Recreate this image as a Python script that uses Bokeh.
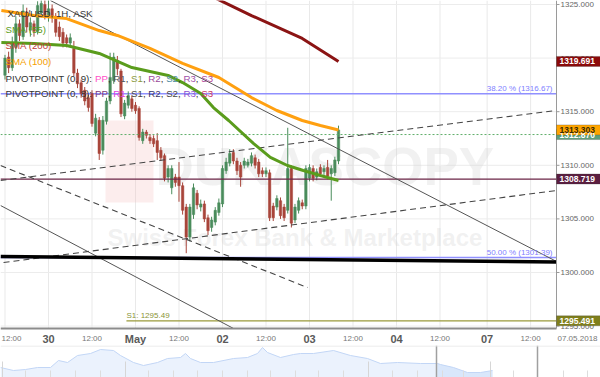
from bokeh.plotting import figure
from bokeh.models import ColumnDataSource, Range1d
from bokeh.layouts import column
from bokeh.core.properties import value
from bokeh.embed import file_html
from bokeh.resources import INLINE

# ---------------- data ----------------
hours = list(range(-12, 81))   # hourly candles, hour 0 = 30 Apr 00:00
opens = [1318.4, 1320.1, 1319.1, 1321.0, 1323.2, 1322.0, 1324.3, 1322.6, 1323.2, 1322.5, 1324.2, 1325.0,
         1323.9, 1324.6, 1323.9, 1322.9, 1322.4, 1321.9, 1321.4, 1320.9, 1318.6, 1317.7, 1317.0, 1316.3,
         1316.7, 1313.0, 1314.2, 1311.4, 1314.1, 1316.0, 1317.9, 1319.8, 1318.8, 1314.6, 1315.6, 1316.2,
         1315.6, 1315.3, 1312.3, 1313.1, 1312.6, 1312.5, 1312.3, 1311.4, 1310.9, 1308.9, 1307.9, 1308.9,
         1308.9, 1308.1, 1306.1, 1303.3, 1305.4, 1307.4, 1306.1, 1306.4, 1305.1, 1304.2, 1304.7, 1305.6,
         1306.4, 1309.5, 1310.2, 1311.2, 1310.4, 1310.0, 1310.0, 1310.0, 1310.2, 1310.7, 1310.3, 1309.5,
         1309.2, 1309.3, 1306.2, 1306.1, 1306.7, 1306.1, 1305.8, 1309.7, 1304.9, 1305.8, 1306.5, 1306.2,
         1308.8, 1309.7, 1308.9, 1309.8, 1309.4, 1309.8, 1309.2, 1309.3, 1310.4]
highs = [1320.3, 1320.6, 1322.0, 1323.9, 1323.6, 1325.0, 1324.7, 1323.8, 1323.5, 1325.3, 1325.4, 1325.4,
         1325.4, 1325.0, 1324.2, 1323.4, 1322.8, 1322.2, 1322.3, 1321.6, 1319.0, 1318.0, 1317.3, 1316.6,
         1317.0, 1314.8, 1314.5, 1314.6, 1316.3, 1320.5, 1320.5, 1320.2, 1319.0, 1316.1, 1316.9, 1316.5,
         1315.9, 1315.5, 1313.4, 1313.3, 1312.9, 1312.8, 1313.0, 1311.7, 1311.1, 1310.0, 1310.0, 1309.2,
         1310.3, 1308.4, 1306.4, 1306.4, 1308.3, 1307.7, 1306.8, 1306.7, 1305.4, 1305.2, 1306.1, 1306.9,
         1310.0, 1310.7, 1311.5, 1311.5, 1310.7, 1310.3, 1310.7, 1310.6, 1311.2, 1311.0, 1310.6, 1309.8,
         1309.8, 1309.6, 1306.5, 1307.2, 1307.0, 1306.4, 1313.5, 1310.0, 1306.4, 1307.0, 1306.8, 1310.0,
         1310.1, 1310.0, 1309.7, 1310.1, 1310.0, 1310.5, 1310.0, 1310.8, 1313.7]
lows = [1318.0, 1318.6, 1318.8, 1320.5, 1321.6, 1321.7, 1322.4, 1322.0, 1322.0, 1322.2, 1323.8, 1323.6,
        1323.4, 1323.3, 1322.0, 1321.6, 1321.0, 1321.0, 1321.1, 1318.3, 1317.2, 1316.3, 1315.6, 1315.0,
        1313.6, 1312.7, 1310.5, 1311.0, 1313.8, 1315.7, 1317.6, 1318.4, 1314.5, 1314.3, 1315.3, 1315.0,
        1314.8, 1312.3, 1312.0, 1312.5, 1312.0, 1311.7, 1310.5, 1310.4, 1308.5, 1308.4, 1307.3, 1308.0,
        1306.6, 1305.4, 1301.8, 1302.9, 1305.0, 1305.9, 1305.7, 1304.7, 1303.5, 1303.8, 1304.4, 1305.3,
        1306.1, 1309.2, 1309.9, 1310.1, 1309.1, 1308.0, 1309.7, 1309.8, 1309.9, 1309.7, 1308.9, 1308.9,
        1308.9, 1304.8, 1304.8, 1305.8, 1305.0, 1304.8, 1305.5, 1304.2, 1304.6, 1305.5, 1305.9, 1305.9,
        1308.5, 1308.5, 1308.6, 1308.9, 1309.1, 1308.7, 1306.7, 1309.0, 1310.1]
closes = [1320.0, 1319.1, 1321.5, 1323.2, 1322.1, 1324.4, 1322.9, 1323.3, 1322.5, 1324.9, 1325.1, 1324.0,
          1324.6, 1323.8, 1322.4, 1322.0, 1321.4, 1321.4, 1321.9, 1318.6, 1317.6, 1316.7, 1316.0, 1315.4,
          1313.9, 1314.4, 1311.1, 1314.2, 1316.0, 1318.2, 1320.1, 1319.0, 1314.8, 1315.8, 1316.5, 1315.3,
          1315.1, 1312.6, 1313.1, 1312.8, 1312.3, 1312.0, 1311.2, 1310.7, 1308.8, 1309.7, 1309.7, 1308.4,
          1308.1, 1305.8, 1303.3, 1306.1, 1307.9, 1306.3, 1306.4, 1305.0, 1303.9, 1304.9, 1305.8, 1306.5,
          1309.7, 1310.3, 1311.1, 1310.4, 1309.5, 1308.9, 1310.4, 1310.3, 1310.9, 1310.0, 1309.2, 1309.2,
          1309.5, 1305.1, 1305.1, 1306.9, 1305.3, 1305.1, 1309.7, 1304.6, 1306.1, 1306.7, 1306.2, 1309.7,
          1309.8, 1308.8, 1309.4, 1309.2, 1309.7, 1309.0, 1309.7, 1310.5, 1313.3]

sma55_h = [-13, -4, 5, 14, 23, 33, 37, 42, 45.5, 49.7, 56.6, 61.2, 65.9, 70.3, 75, 80]
sma55_v = [1321.45, 1321.36, 1321.17, 1320.43, 1319.12, 1318.38, 1317.72, 1316.70, 1315.39, 1314.18,
           1312.03, 1310.73, 1309.98, 1309.51, 1309.05, 1308.58]
sma100_h = [-13, -4, 5, 14, 19, 28, 37, 47, 56, 63, 70, 75, 80]
sma100_v = [1324.44, 1323.97, 1323.69, 1322.57, 1322.11, 1320.90, 1319.50, 1318.19, 1316.32, 1315.11,
            1314.18, 1313.71, 1313.30]
sma200_h = [46, 56, 70, 80]
sma200_v = [1325.6, 1323.97, 1321.83, 1319.69]

# trend lines (start hour, start price, end hour, end price)
solid_x0 = [0.55, -13.24]
solid_y0 = [1325.37, 1306.25]
solid_x1 = [140.14, 51.03]
solid_y1 = [1301.03, 1294.78]
dash_x0 = [-13.24, -13.24, -12.4]
dash_y0 = [1309.98, 1308.58, 1300.93]
dash_x1 = [71.45, 140.14, 140.14]
dash_y1 = [1298.60, 1315.11, 1307.65]
thick_x = [-13.24, 140.14]
thick_y = [1301.50, 1300.98]

fib_levels = [1316.67, 1301.39]
fib_texts = ["38.20 % (1316.67)", "50.00 % (1301.39)"]
support_level = 1308.719
ask_level = 1312.870
s1_level = 1295.49
s1_start = 21.5

tag_values = [1319.691, 1312.870, 1313.303, 1308.719, 1295.491]
tag_fill = ["#8b0a0a", "#5f9f78", "#ffa500", "#5b1e40", "#7f7f1c"]
tag_text = ["#ffffff", "#ffffff", "#3a2a00", "#ffffff", "#ffffff"]

day_ticks = [0, 24, 48, 72, 96, 121]
day_labels = ["30", "May", "02", "03", "04", "07"]
half_ticks = [-12, 12, 36, 60, 84, 108, 133]
half_labels = ["12:00"] * 7
price_ticks = [1295, 1300, 1305, 1310, 1315, 1320, 1325]
date_label = "07.05.2018"

nav_x = [0, 13, 25, 37, 50, 58, 67, 77, 90, 100, 113, 120, 133, 143, 157, 167, 180, 185, 190, 200, 213,
         233, 247, 257, 262, 267, 280, 293, 300, 313, 333, 350, 367, 380, 397, 420, 437, 440, 453, 467,
         480, 492]
nav_v = [10, 7, 8, 10, 10, 17, 15, 22, 24, 28, 27, 22, 15, 12, 15, 19, 20, 24, 19, 15, 15, 19, 20, 24, 30,
         25, 20, 23, 24, 24, 27, 22, 19, 14, 15, 14, 14, 13, 10, 5, 5, 7]
nav_short = [25, 50, 75, 100, 148, 173, 197, 222, 247, 270, 295, 318, 343, 392, 417, 442, 463, 513, 563, 587]
nav_tall = [2, 125, 368, 490]
nav_window = [436, 537]

# ---------------- layout helpers ----------------
X0, X1 = -13.24, 140.14          # chart area spans pixels 0..556
Y0, Y1 = 1325.373, 1294.776      # chart area spans pixels 0..328
FW, FH = 556, 328
KX = (X1 - X0) / FW
KY = (Y0 - Y1) / FH
W, H = 600, 345


def px2x(px):
    return X0 + px * KX


def px2y(py):
    return Y0 - py * KY


FONT = "Liberation Sans"

p = figure(width=W, height=H, x_range=Range1d(X0, px2x(W)), y_range=Range1d(px2y(H), Y0),
           min_border=0, output_backend="svg", toolbar_location=None)
p.axis.visible = False
p.grid.visible = False
p.outline_line_color = None
p.background_fill_color = "white"
p.border_fill_color = "white"

# grid
vt = sorted(day_ticks + half_ticks)
p.segment(x0=vt, y0=[Y1] * len(vt), x1=vt, y1=[Y0] * len(vt), line_color="#e9e9e9", line_width=1)
p.segment(x0=[X0] * len(price_ticks), y0=price_ticks, x1=[X1] * len(price_ticks), y1=price_ticks,
          line_color="#ececec", line_width=1)

# watermark
p.quad(left=[px2x(105)], right=[px2x(153)], top=[px2y(120)], bottom=[px2y(202)],
       fill_color="#f4c4c4", fill_alpha=0.3, line_color=None)
p.text(x=[px2x(155)], y=[px2y(166)], text=["DUKASCOPY"], text_font=value(FONT),
       text_font_style="bold", text_font_size="53px", text_color="#cfcfcf", text_alpha=0.3,
       text_baseline="middle")
p.text(x=[px2x(107)], y=[px2y(237)], text=["Swiss Forex Bank & Marketplace"], text_font=value(FONT),
       text_font_style="bold", text_font_size="24px", text_color="#cfcfcf", text_alpha=0.3,
       text_baseline="middle")

# fib levels
p.segment(x0=[X0] * 2, y0=fib_levels, x1=[X1] * 2, y1=fib_levels, line_color="#9090ff", line_width=1.5)

# candles
inc = [c >= o for o, c in zip(opens, closes)]
colors = ["#4a8c5c" if u else "#a8453a" for u in inc]
src = ColumnDataSource(dict(h=hours, o=opens, hi=highs, lo=lows, c=closes, col=colors,
                            top=[max(o, c) for o, c in zip(opens, closes)],
                            bot=[min(o, c) for o, c in zip(opens, closes)]))
p.segment(x0="h", y0="hi", x1="h", y1="lo", color="col", line_width=1, source=src)
p.vbar(x="h", top="top", bottom="bot", width=0.68, fill_color="col", line_color="col",
       line_width=0.5, source=src)

# horizontal lines
p.segment(x0=[X0], y0=[support_level], x1=[X1], y1=[support_level], line_color="#6b2546", line_width=1.2)
p.segment(x0=[X0], y0=[ask_level], x1=[X1], y1=[ask_level], line_color="#5fae6a", line_width=1,
          line_dash="2 2")
p.segment(x0=[s1_start], y0=[s1_level], x1=[X1], y1=[s1_level], line_color="#9a9a3a", line_width=1.2)

# trend lines
p.segment(x0=solid_x0, y0=solid_y0, x1=solid_x1, y1=solid_y1, line_color="#555555", line_width=1)
p.segment(x0=dash_x0, y0=dash_y0, x1=dash_x1, y1=dash_y1, line_color="#444444", line_width=1.1,
          line_dash="6 4")
p.line(x=thick_x, y=thick_y, line_color="#000000", line_width=3.5)

# SMAs
p.line(x=sma200_h, y=sma200_v, line_color="#8b1414", line_width=3)
p.line(x=sma100_h, y=sma100_v, line_color="#ffa010", line_width=3)
p.line(x=sma55_h, y=sma55_v, line_color="#5a9c1c", line_width=3)

# level texts
p.text(x=[px2x(552)] * 2, y=fib_levels, text=fib_texts, text_align="right", text_baseline="bottom",
       y_offset=-1, text_font=value(FONT), text_font_size="8px", text_color="#8080ff")
p.text(x=[s1_start], y=[s1_level], text=["S1: 1295.49"], text_align="left", text_baseline="bottom",
       y_offset=-1, text_font=value(FONT), text_font_size="8px", text_color="#8a9436")

# frame borders (bottom and right axis line)
p.segment(x0=[X0], y0=[Y1], x1=[X1], y1=[Y1], line_color="#8c8c8c", line_width=2)
p.segment(x0=[X1], y0=[Y1], x1=[X1], y1=[Y0], line_color="#9a9a9a", line_width=1)

# right axis: ticks and labels
p.segment(x0=[X1] * len(price_ticks), y0=price_ticks, x1=[px2x(559)] * len(price_ticks), y1=price_ticks,
          line_color="#9a9a9a", line_width=1)
p.text(x=[px2x(560)] * len(price_ticks), y=price_ticks, text=[f"{v:.3f}" for v in price_ticks],
       text_align="left", text_baseline="middle", text_font=value(FONT), text_font_size="8px",
       text_color="#666666")

# bottom axis labels
p.text(x=day_ticks, y=[px2y(338)] * len(day_ticks), text=day_labels, text_align="center",
       text_baseline="middle", text_font=value(FONT), text_font_size="11px", text_font_style="bold",
       text_color="#5a5a5a")
edge_ticks = [t for t in half_ticks if t < px2x(11)]
inner_ticks = [t for t in half_ticks if t >= px2x(11)]
p.text(x=[X0] * len(edge_ticks), y=[px2y(338)] * len(edge_ticks),
       text=half_labels[:len(edge_ticks)], text_align="left", x_offset=1,
       text_baseline="middle", text_font=value(FONT), text_font_size="8px", text_color="#777777")
p.text(x=inner_ticks, y=[px2y(338)] * len(inner_ticks), text=half_labels[len(edge_ticks):],
       text_align="center", text_baseline="middle", text_font=value(FONT), text_font_size="8px",
       text_color="#777777")
p.text(x=[px2x(557)], y=[px2y(338)], text=[date_label], text_align="left", text_baseline="middle",
       text_font=value(FONT), text_font_size="8px", text_color="#777777")

# price tags on the right axis
half_h = 5 * KY
p.quad(left=[X1] * len(tag_values), right=[px2x(600)] * len(tag_values),
       bottom=[v - half_h for v in tag_values], top=[v + half_h for v in tag_values],
       fill_color=tag_fill, line_color="#333333", line_width=0.5, line_alpha=0.5)
p.text(x=[px2x(559)] * len(tag_values), y=tag_values, text=[f"{v:.3f}" for v in tag_values],
       text_align="left", text_baseline="middle", text_font=value(FONT), text_font_size="8.5px",
       text_font_style="bold", text_color=tag_text)

# legend texts
CW = {'P': .667, 'I': .278, 'V': .667, 'O': .778, 'T': .611, 'N': .722, 'R': .722, 'S': .667,
      ' ': .278, '(': .333, ')': .333, ',': .278, ':': .278}
LS = 9.7


def tw(s):
    return sum(CW.get(ch, .556) for ch in s) * LS


def legend_line(segs, px, py):
    xs, ts, cs = [], [], []
    for txt, colr in segs:
        xs.append(px2x(px))
        ts.append(txt)
        cs.append(colr)
        px += tw(txt)
    p.text(x=xs, y=[px2y(py)] * len(xs), text=ts, text_color=cs, text_align="left",
           text_baseline="middle", text_font=value(FONT), text_font_size=f"{LS}px")


legend_line([("XAU/USD, 1H, ASK", "#333333")], 7, 13)
legend_line([("SMA (55)", "#5a9c1c")], 5, 28.5)
legend_line([("SMA (200)", "#c0403a")], 5, 44.5)
legend_line([("SMA (100)", "#f5a000")], 5, 61)

names = ["PP", "R1", "S1", "R2", "S2", "R3", "S3"]
cols9 = ["#ff4fc8", "#555555", "#8c9a3c", "#9a4a9a", "#4a8aa0", "#a050a8", "#b04898"]
cols8 = ["#7a3a7a", "#e040e0", "#444444", "#333366", "#444444", "#8a50d0", "#c83060"]
for label_head, cols, py in [("PIVOTPOINT (0, 9): ", cols9, 78), ("PIVOTPOINT (0, 8): ", cols8, 92.5)]:
    segs = [(label_head, "#333333")]
    for i, (nm, c) in enumerate(zip(names, cols)):
        segs.append((nm, c))
        if i < len(names) - 1:
            segs.append((", ", "#333333"))
    legend_line(segs, 5, py)

# ---------------- navigator ----------------
n = figure(width=600, height=32, x_range=Range1d(0, 600), y_range=Range1d(0, 32), min_border=0,
           output_backend="svg", toolbar_location=None)
n.axis.visible = False
n.grid.visible = False
n.outline_line_color = None
n.varea(x=nav_x, y1=[0] * len(nav_x), y2=nav_v, fill_color="#ebf2fd")
n.varea(x=nav_x[36:], y1=[0] * len(nav_x[36:]), y2=nav_v[36:], fill_color="#d9e7fb")
n.line(x=nav_x, y=nav_v, line_color="#c2d6f6", line_width=1)
n.segment(x0=nav_short, y0=[0] * len(nav_short), x1=nav_short, y1=[7] * len(nav_short),
          line_color="#dddddd", line_width=1)
n.segment(x0=nav_tall, y0=[0] * len(nav_tall), x1=nav_tall, y1=[16] * len(nav_tall),
          line_color="#d6d6d6", line_width=1)
n.segment(x0=nav_window, y0=[0, 0], x1=nav_window, y1=[32, 32], line_color="#a0a0a0", line_width=1.5)
n.segment(x0=[0], y0=[31.5], x1=[600], y1=[31.5], line_color="#e6e6e6", line_width=1)

lay = column(p, n, spacing=0)
open("out.html", "w").write(file_html(lay, INLINE))
